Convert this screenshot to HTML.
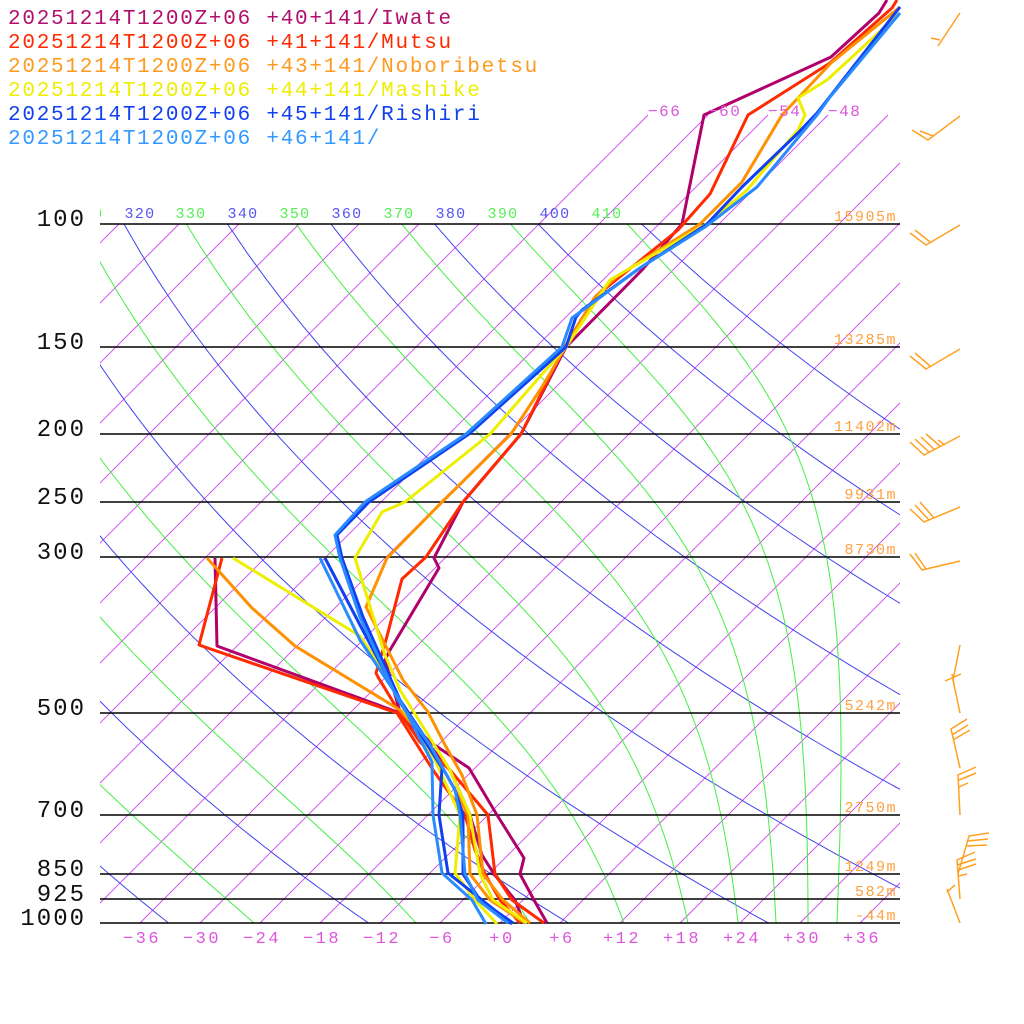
<!DOCTYPE html>
<html><head><meta charset="utf-8">
<style>
html,body{margin:0;padding:0;background:#fff;}
svg{display:block}
text{font-family:"Liberation Mono","DejaVu Sans Mono",monospace;}
</style></head>
<body>
<svg id="s" width="1024" height="1024" viewBox="0 0 1024 1024" xmlns="http://www.w3.org/2000/svg">
<defs>
<clipPath id="plot"><rect x="100" y="0" width="800" height="923"/></clipPath>
<clipPath id="plotlow"><rect x="100" y="224" width="800" height="699"/></clipPath>
<clipPath id="lab"><rect x="100" y="190" width="800" height="40"/></clipPath>
</defs>
<g id="grid"></g>
<g id="snd" fill="none" stroke-width="3" stroke-linejoin="round"></g>
<g id="barbs" fill="none" stroke="#ffa020" stroke-width="1.5"></g>
<g id="txt"></g>
</svg>
<script>
const NS="http://www.w3.org/2000/svg";
const g=document.getElementById('grid'), snd=document.getElementById('snd'), bb=document.getElementById('barbs'), tx=document.getElementById('txt');
function Y(p){return 923-303.6*Math.log(1000/p);}
function X(T,p){return 500+10*T+(923-Y(p));}
function el(par,tag,attrs,text){const e=document.createElementNS(NS,tag);for(const k in attrs)e.setAttribute(k,attrs[k]);if(text!==undefined)e.textContent=text;par.appendChild(e);return e;}
function pl(par,pts,attrs){attrs.points=pts.map(p=>p[0].toFixed(1)+','+p[1].toFixed(1)).join(' ');attrs.fill='none';return el(par,'polyline',attrs);}
const gi=el(g,'g',{'clip-path':'url(#plot)'});
for(let T=-150;T<=60;T+=6){
  const ytop = T>=-66 ? 115 : 224;
  const x1=500+10*T, y1=923, x2=500+10*T+(923-ytop), y2=ytop;
  pl(gi,[[x1,y1],[x2,y2]],{stroke:'#cc44ee','stroke-width':0.9});
  if(T>=-66 && T<=-48){el(tx,'text',{x:x2,y:116,'font-size':16,fill:'#dd55dd','letter-spacing':'1.5'},(T<0?'\u2212':'+')+Math.abs(T));}
}
const gd=el(g,'g',{'clip-path':'url(#plotlow)'});
for(let th=200;th<=420;th+=20){
  const pts=[];for(let p=100;p<=1000;p+=10){const T=th*Math.pow(p/1000,0.286)-273.15;pts.push([X(T,p),Y(p)]);}
  pl(gd,pts,{stroke:'#4444ee','stroke-width':1});
}
function es(Tc){return 6.112*Math.exp(17.67*Tc/(Tc+243.5));}
[-43,-24.6,-8.4,3,12.4,18.8,23.8,27.6,30.8,33.7].forEach(T0=>{
  let T=T0+273.15;const pts=[[X(T0,1000),Y(1000)]];
  for(let p=1000;p>100;p-=2){
    const e=es(T-273.15);const rs=0.622*e/(p-e);
    const dTdp=(287*T+2.5e6*rs)/(p*(1005+2.5e6*2.5e6*rs*0.622/(287*T*T)));
    T-=dTdp*2;pts.push([X(T-273.15,p-2),Y(p-2)]);
  }
  pl(gd,pts,{stroke:'#44ee44','stroke-width':1});
});
const gl=el(tx,'g',{'clip-path':'url(#lab)'});
[[310,88],[320,140],[330,191],[340,243],[350,295],[360,347],[370,399],[380,451],[390,503],[400,555],[410,607]].forEach(([t,x])=>{
  el(gl,'text',{x:x,y:218,'font-size':15,'letter-spacing':'1.3','text-anchor':'middle',fill:(t/10)%2?'#55ee55':'#5555ee'},String(t));
});
const lv=[[100,'15905m'],[150,'13285m'],[200,'11402m'],[250,'9931m'],[300,'8730m'],[500,'5242m'],[700,'2750m'],[850,'1249m'],[925,'582m'],[1000,'-44m']];
lv.forEach(([p,h])=>{
  const y=Math.round(Y(p));
  el(g,'line',{x1:100,x2:900,y1:y,y2:y,stroke:'#000','stroke-width':1.5});
  el(tx,'text',{x:86,y:y+2,'font-size':24,'letter-spacing':'2','text-anchor':'end',fill:'#111'},String(p));
  el(tx,'text',{x:897,y:y-3,'font-size':15,'letter-spacing':'1.5','text-anchor':'end',fill:'#ffa040'},h);
});
for(let T=-36;T<=36;T+=6){
  el(tx,'text',{x:500+10*T+2,y:943,'font-size':17,'letter-spacing':'2.5','text-anchor':'middle',fill:'#dd55dd'},(T<0?'\u2212':'+')+Math.abs(T));
}
const S=[
 ['#b0006b',
  [[887,0],[879,13],[831,57],[704,115],[682,224],[642,270],[566,347],[521,434],[463,502],[434,558],[439,568],[390,650],[385,660],[400,712],[430,742],[469,768],[497,815],[524,858],[520,874],[534,900],[547,923]],
  [[215,558],[217,646],[400,713],[425,740],[450,770],[470,815],[482,855],[494,874],[515,900],[524,923]]],
 ['#ff2a00',
  [[897,0],[892,8],[830,63],[748,115],[710,194],[678,230],[616,280],[595,297],[563,350],[521,434],[463,502],[426,557],[402,579],[386,640],[376,673],[378,677],[398,710],[420,742],[450,770],[488,815],[495,874],[512,900],[544,923]],
  [[222,558],[199,645],[397,713],[433,770],[465,815],[475,850],[485,874],[500,900],[520,923]]],
 ['#ff9000',
  [[900,7],[831,63],[798,98],[782,115],[742,182],[700,224],[616,277],[595,297],[542,387],[511,434],[442,502],[387,558],[366,607],[403,680],[428,712],[445,745],[462,775],[477,815],[483,874],[503,900],[530,923]],
  [[207,558],[252,608],[295,646],[400,710],[430,745],[455,790],[468,815],[470,874],[490,900],[525,923]]],
 ['#eeee00',
  [[900,13],[827,80],[798,98],[805,115],[798,130],[747,190],[708,223],[610,280],[566,347],[537,380],[490,434],[405,502],[382,512],[355,558],[368,600],[385,655],[400,690],[425,730],[450,770],[470,815],[480,874],[493,900],[527,923]],
  [[233,558],[360,636],[390,680],[405,712],[435,760],[460,815],[455,873],[475,900],[497,924]]],
 ['#1040f0',
  [[900,7],[817,113],[798,133],[742,187],[707,224],[637,270],[582,310],[576,317],[566,347],[469,434],[369,502],[337,535],[342,558],[363,617],[400,700],[430,745],[455,790],[463,815],[463,874],[480,900],[513,923]],
  [[325,558],[360,625],[405,710],[442,768],[439,815],[448,873],[482,900],[512,924]]],
 ['#2a8aff',
  [[900,13],[830,97],[817,115],[757,187],[705,227],[640,268],[583,310],[572,318],[562,347],[466,434],[365,502],[335,535],[340,558],[360,617],[398,700],[430,745],[455,790],[460,815],[465,874],[478,900],[508,923]],
  [[320,558],[360,640],[400,700],[432,762],[433,815],[442,873],[472,900],[486,924]]]
];
S.forEach(([c,t,d])=>{pl(snd,t,{stroke:c});pl(snd,d,{stroke:c});});
const L=[['#b0106b','20251214T1200Z+06 +40+141/Iwate'],['#ff2a00','20251214T1200Z+06 +41+141/Mutsu'],['#ff9a20','20251214T1200Z+06 +43+141/Noboribetsu'],['#eeee00','20251214T1200Z+06 +44+141/Mashike'],['#1040f0','20251214T1200Z+06 +45+141/Rishiri'],['#3399ff','20251214T1200Z+06 +46+141/']];
L.forEach(([c,s],i)=>el(tx,'text',{x:8,y:24+24*i,'font-size':21,'letter-spacing':'1.75',fill:c,'xml:space':'preserve'},s));
const B=[
 [[960,13],[938,46]],[[931,38],[940,40]],
 [[960,116],[928,140],[912,130]],[[933,136],[920,131]],
 [[960,225],[926,245],[910,233]],[[930,242],[915,230]],
 [[960,349],[926,369],[910,356]],[[930,366],[915,353]],
 [[960,436],[924,455],[910,442]],[[929,452],[915,439]],[[935,450],[921,437]],[[941,447],[926,434]],[[945,445],[938,440]],
 [[960,507],[924,522],[910,509]],[[929,520],[915,505]],[[934,518],[920,502]],
 [[960,561],[922,570],[910,554]],[[926,569],[915,553]],
 [[960,645],[953,680],[960,713]],[[945,681],[961,674]],[[952,674],[954,684]],
 [[960,768],[951,729],[967,719]],[[952,735],[968,725]],[[953,740],[970,730]],
 [[960,815],[958,775],[976,767]],[[959,780],[976,773]],[[959,787],[968,783]],
 [[958,874],[969,836],[989,833]],[[968,841],[988,839]],[[967,846],[987,845]],
 [[960,899],[957,860],[975,852]],[[957,865],[976,859]],[[958,870],[976,864]],[[959,876],[967,874]],
 [[960,923],[947,889]],[[947,892],[955,885]]
];
B.forEach(b=>pl(bb,b,{}));
</script>
</body></html>
